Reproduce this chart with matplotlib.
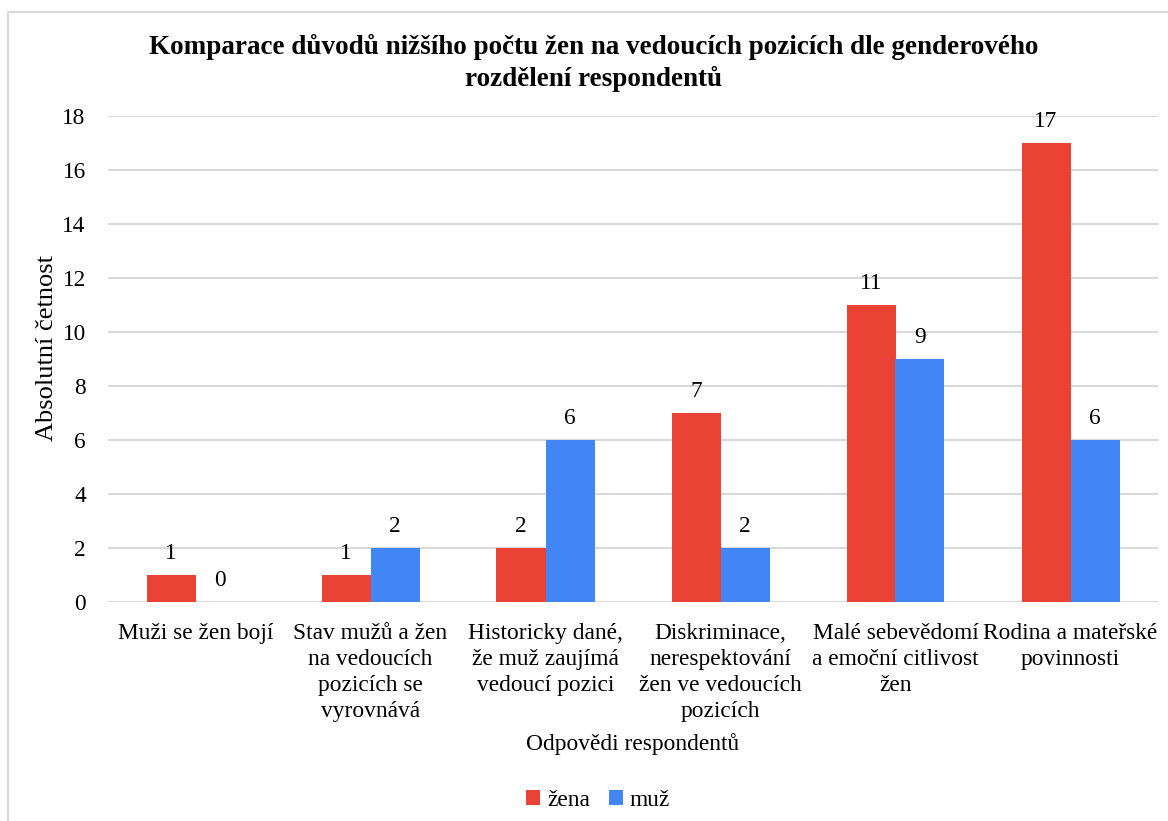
import matplotlib
matplotlib.use("Agg")
import matplotlib.pyplot as plt
import numpy as np
from matplotlib.patches import Rectangle

categories = [
    "Muži se žen bojí",
    "Stav mužů a žen\nna vedoucích\npozicích se\nvyrovnává",
    "Historicky dané,\nže muž zaujímá\nvedoucí pozici",
    "Diskriminace,\nnerespektování\nžen ve vedoucích\npozicích",
    "Malé sebevědomí\na emoční citlivost\nžen",
    "Rodina a mateřské\npovinnosti",
]
zena = [1, 1, 2, 7, 11, 17]
muz = [0, 2, 6, 2, 9, 6]
series_names = ["žena", "muž"]
colors = ["#EA4335", "#4285F4"]

plt.rcParams["font.family"] = ["Liberation Serif", "DejaVu Serif"]
FS = 16.8

W, H = 1168, 821
fig = plt.figure(figsize=(W / 100, H / 100), dpi=100)
ax = fig.add_axes([108 / W, 1 - 602 / H, (1158 - 108) / W, (602 - 116) / H])

# chart frame
fig.patches.append(Rectangle((8 / W, -0.1), 1.2, 1 - 12 / H + 0.1,
                             transform=fig.transFigure, fill=False,
                             edgecolor="#D9D9D9", linewidth=1.5, zorder=0))

x = np.arange(len(categories))
w = 0.28
b1 = ax.bar(x - w / 2, zena, w, color=colors[0], label=series_names[0], zorder=3)
b2 = ax.bar(x + w / 2, muz, w, color=colors[1], label=series_names[1], zorder=3)
for bars in (b1, b2):
    for r in bars:
        ax.annotate(f"{int(r.get_height())}",
                    (r.get_x() + r.get_width() / 2, r.get_height()),
                    xytext=(0, 8), textcoords="offset points",
                    ha="center", va="bottom", fontsize=FS, color="#000000")

ax.set_xlim(-0.5, len(categories) - 0.5)
ax.set_ylim(0, 18)
ax.set_yticks(np.arange(0, 19, 2))
ax.grid(axis="y", color="#D9D9D9", linewidth=1.5, zorder=0)
for s in ax.spines.values():
    s.set_visible(False)
ax.tick_params(axis="both", length=0, labelsize=FS, colors="#000000")
ax.tick_params(axis="y", pad=16)
ax.tick_params(axis="x", pad=15)
ax.set_xticks(x)
ax.set_xticklabels(categories, linespacing=1.32)

ax.set_xlabel("Odpovědi respondentů", fontsize=FS, labelpad=8)
fig.text(47 / W, 1 - 348 / H, "Absolutní četnost", rotation=90,
         ha="center", va="center", fontsize=19)

fig.text(594 / W, 1 - 63 / H,
         "Komparace důvodů nižšího počtu žen na vedoucích pozicích dle genderového\nrozdělení respondentů",
         ha="center", va="center", fontsize=19.5, fontweight="bold", linespacing=1.3)

fig.legend(handles=[b1, b2], labels=series_names, loc="center",
           bbox_to_anchor=(598 / W, 1 - 800 / H), ncol=2, frameon=False,
           fontsize=FS, handlelength=0.6, handleheight=0.6, handletextpad=0.3,
           columnspacing=0.8)

fig.savefig("out.png", dpi=100)
